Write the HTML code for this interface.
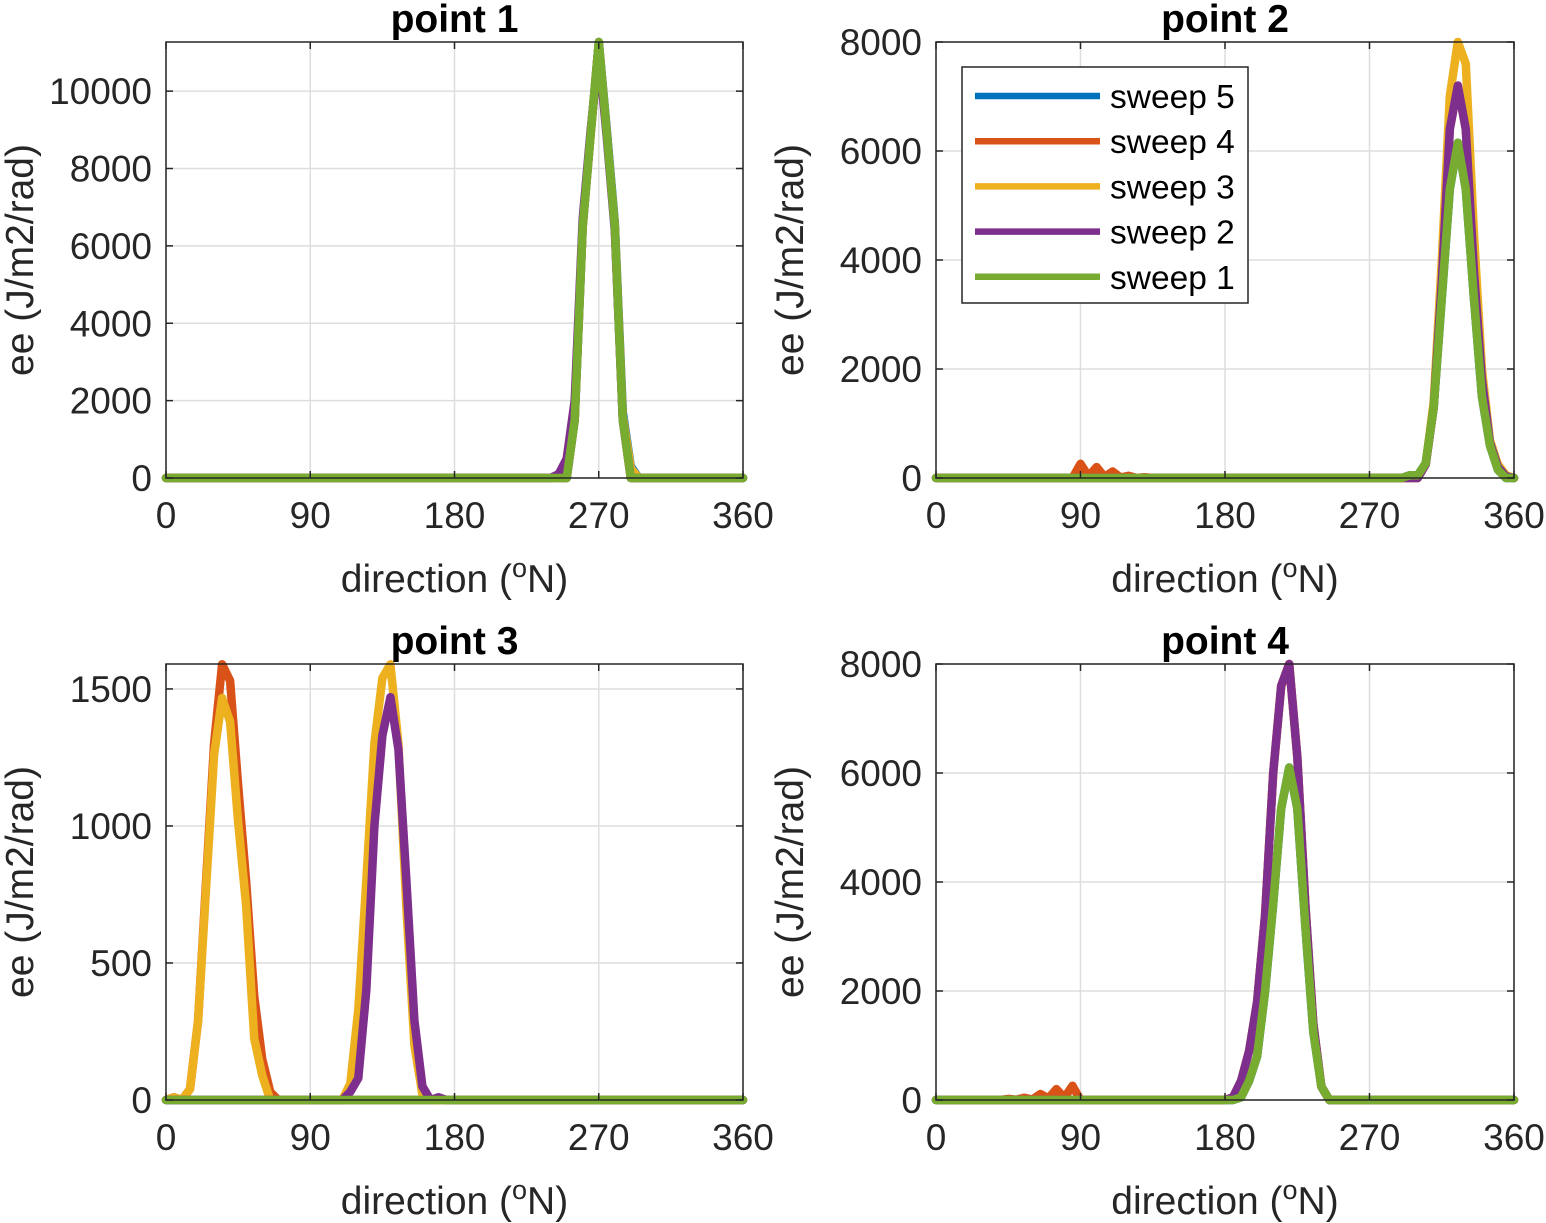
<!DOCTYPE html>
<html><head><meta charset="utf-8"><style>
html,body{margin:0;padding:0;background:#fff;}
svg{display:block;font-family:"Liberation Sans",Arial,sans-serif;}
</style></head><body>
<svg id="fig" width="1546" height="1223" viewBox="0 0 1546 1223" xmlns="http://www.w3.org/2000/svg"></svg>
<script>
// directions: 0..360 step 5
const directions = [0,5,10,15,20,25,30,35,40,45,50,55,60,65,70,75,80,85,90,95,100,105,110,115,120,125,130,135,140,145,150,155,160,165,170,175,180,185,190,195,200,205,210,215,220,225,230,235,240,245,250,255,260,265,270,275,280,285,290,295,300,305,310,315,320,325,330,335,340,345,350,355,360];
const seriesNames = ["sweep 5","sweep 4","sweep 3","sweep 2","sweep 1"];
const xTicks = [0,90,180,270,360];

// point 1
const p1_s5 = [0,0,0,0,0,0,0,0,0,0, 0,0,0,0,0,0,0,0,0,0, 0,0,0,0,0,0,0,0,0,0, 0,0,0,0,0,0,0,0,0,0, 0,0,0,0,0,0,0,0,0,0, 0,1500,6500,8900,11270,9000,6600,1700,300,0, 0,0,0,0,0,0,0,0,0,0, 0,0,0];
const p1_s4 = [0,0,0,0,0,0,0,0,0,0, 0,0,0,0,0,0,0,0,0,0, 0,0,0,0,0,0,0,0,0,0, 0,0,0,0,0,0,0,0,0,0, 0,0,0,0,0,0,0,0,0,0, 0,1500,6500,8900,11270,8900,6500,1500,0,0, 0,0,0,0,0,0,0,0,0,0, 0,0,0];
const p1_s3 = [0,0,0,0,0,0,0,0,0,0, 0,0,0,0,0,0,0,0,0,0, 0,0,0,0,0,0,0,0,0,0, 0,0,0,0,0,0,0,0,0,0, 0,0,0,0,0,0,0,0,0,0, 500,1800,6600,8900,11200,8900,6500,1600,250,0, 0,0,0,0,0,0,0,0,0,0, 0,0,0];
const p1_s2 = [0,0,0,0,0,0,0,0,0,0, 0,0,0,0,0,0,0,0,0,0, 0,0,0,0,0,0,0,0,0,0, 0,0,0,0,0,0,0,0,0,0, 0,0,0,0,0,0,0,0,0,100, 500,2000,6700,9000,11000,8800,6400,1500,0,0, 0,0,0,0,0,0,0,0,0,0, 0,0,0];
const p1_s1 = [0,0,0,0,0,0,0,0,0,0, 0,0,0,0,0,0,0,0,0,0, 0,0,0,0,0,0,0,0,0,0, 0,0,0,0,0,0,0,0,0,0, 0,0,0,0,0,0,0,0,0,0, 0,1500,6500,8900,11270,8900,6500,1500,0,0, 0,0,0,0,0,0,0,0,0,0, 0,0,0];
const p1_yTicks = [0,2000,4000,6000,8000,10000];

// point 2
const p2_s5 = [0,0,0,0,0,0,0,0,0,0, 0,0,0,0,0,0,0,0,0,0, 0,0,0,0,0,0,0,0,0,0, 0,0,0,0,0,0,0,0,0,0, 0,0,0,0,0,0,0,0,0,0, 0,0,0,0,0,0,0,0,0,50, 50,270,1300,3300,5300,6150,5300,3300,1500,600, 150,0,0];
const p2_s4 = [0,0,0,0,0,0,0,0,0,0, 0,0,0,0,0,0,0,0,260,30, 200,20,120,10,40,0,15,0,0,0, 0,0,0,0,0,0,0,0,0,0, 0,0,0,0,0,0,0,0,0,0, 0,0,0,0,0,0,0,0,0,0, 0,250,1300,3600,6400,7200,6400,3800,1800,650, 200,30,0];
const p2_s3 = [0,0,0,0,0,0,0,0,0,0, 0,0,0,0,0,0,0,0,0,0, 0,0,0,0,0,0,0,0,0,0, 0,0,0,0,0,0,0,0,0,0, 0,0,0,0,0,0,0,0,0,0, 0,0,0,0,0,0,0,0,0,0, 0,250,1400,4000,7000,8000,7600,4500,2000,700, 250,50,0];
const p2_s2 = [0,0,0,0,0,0,0,0,0,0, 0,0,0,0,0,0,0,0,0,0, 0,0,0,0,0,0,0,0,0,0, 0,0,0,0,0,0,0,0,0,0, 0,0,0,0,0,0,0,0,0,0, 0,0,0,0,0,0,0,0,0,0, 0,250,1300,3600,6400,7200,6400,3800,1800,650, 200,30,0];
const p2_s1 = [0,0,0,0,0,0,0,0,0,0, 0,0,0,0,0,0,0,0,0,0, 0,0,0,0,0,0,0,0,0,0, 0,0,0,0,0,0,0,0,0,0, 0,0,0,0,0,0,0,0,0,0, 0,0,0,0,0,0,0,0,0,50, 50,270,1300,3300,5300,6150,5300,3300,1500,600, 150,0,0];
const p2_yTicks = [0,2000,4000,6000,8000];

// point 3
const p3_s5 = [0,0,0,0,0,0,0,0,0,0, 0,0,0,0,0,0,0,0,0,0, 0,0,0,0,0,0,0,0,0,0, 0,0,0,0,0,0,0,0,0,0, 0,0,0,0,0,0,0,0,0,0, 0,0,0,0,0,0,0,0,0,0, 0,0,0,0,0,0,0,0,0,0, 0,0,0];
const p3_s4 = [0,10,0,40,290,800,1300,1590,1530,1150, 800,380,150,30,0,0,0,0,0,0, 0,0,0,0,0,0,0,0,0,0, 0,0,0,0,0,0,0,0,0,0, 0,0,0,0,0,0,0,0,0,0, 0,0,0,0,0,0,0,0,0,0, 0,0,0,0,0,0,0,0,0,0, 0,0,0];
const p3_s3 = [0,10,0,40,290,775,1260,1467,1380,1015, 710,225,90,0,0,0,0,0,0,0, 0,0,0,60,330,800,1300,1540,1590,1300, 700,200,20,0,0,0,0,0,0,0, 0,0,0,0,0,0,0,0,0,0, 0,0,0,0,0,0,0,0,0,0, 0,0,0,0,0,0,0,0,0,0, 0,0,0];
const p3_s2 = [0,0,0,0,0,0,0,0,0,0, 0,0,0,0,0,0,0,0,0,0, 0,0,0,30,80,400,1000,1330,1470,1280, 800,290,50,0,10,0,0,0,0,0, 0,0,0,0,0,0,0,0,0,0, 0,0,0,0,0,0,0,0,0,0, 0,0,0,0,0,0,0,0,0,0, 0,0,0];
const p3_s1 = [0,0,0,0,0,0,0,0,0,0, 0,0,0,0,0,0,0,0,0,0, 0,0,0,0,0,0,0,0,0,0, 0,0,0,0,0,0,0,0,0,0, 0,0,0,0,0,0,0,0,0,0, 0,0,0,0,0,0,0,0,0,0, 0,0,0,0,0,0,0,0,0,0, 0,0,0];
const p3_yTicks = [0,500,1000,1500];

// point 4
const p4_s5 = [0,0,0,0,0,0,0,0,0,0, 0,0,0,0,0,0,0,0,0,0, 0,0,0,0,0,0,0,0,0,0, 0,0,0,0,0,0,0,0,50,350, 800,2000,3600,5350,6100,5350,3200,1250,250,0, 0,0,0,0,0,0,0,0,0,0, 0,0,0,0,0,0,0,0,0,0, 0,0,0];
const p4_s4 = [0,0,0,0,0,0,0,0,0,20, 5,40,10,110,30,200,40,260,0,0, 0,0,0,0,0,0,0,0,0,0, 0,0,0,0,0,0,0,50,350,900, 1800,3400,6000,7600,8000,6300,3600,1400,250,0, 0,0,0,0,0,0,0,0,0,0, 0,0,0,0,0,0,0,0,0,0, 0,0,0];
const p4_s3 = [0,0,0,0,0,0,0,0,0,0, 0,0,0,0,0,0,0,0,0,0, 0,0,0,0,0,0,0,0,0,0, 0,0,0,0,0,0,0,50,350,900, 1800,3400,6000,7600,8000,6300,3600,1400,250,0, 0,0,0,0,0,0,0,0,0,0, 0,0,0,0,0,0,0,0,0,0, 0,0,0];
const p4_s2 = [0,0,0,0,0,0,0,0,0,0, 0,0,0,0,0,0,0,0,0,0, 0,0,0,0,0,0,0,0,0,0, 0,0,0,0,0,0,0,50,350,900, 1800,3400,6000,7600,8000,6300,3600,1400,250,0, 0,0,0,0,0,0,0,0,0,0, 0,0,0,0,0,0,0,0,0,0, 0,0,0];
const p4_s1 = [0,0,0,0,0,0,0,0,0,0, 0,0,0,0,0,0,0,0,0,0, 0,0,0,0,0,0,0,0,0,0, 0,0,0,0,0,0,0,0,50,350, 800,2000,3600,5350,6100,5350,3200,1250,250,0, 0,0,0,0,0,0,0,0,0,0, 0,0,0,0,0,0,0,0,0,0, 0,0,0];
const p4_yTicks = [0,2000,4000,6000,8000];

const colors = ["#0072BD","#D95319","#EDB120","#7E2F8E","#77AC30"];
const NS = "http://www.w3.org/2000/svg";
const svg = document.getElementById("fig");

function mk(tag, attrs, parent) {
  const e = document.createElementNS(NS, tag);
  for (const k in attrs) e.setAttribute(k, attrs[k]);
  (parent || svg).appendChild(e);
  return e;
}

const panels = [
  {id:1, L:166, R:743, T:42, B:478, ymax:11270, yt:p1_yTicks, s:[p1_s5,p1_s4,p1_s3,p1_s2,p1_s1], legend:false},
  {id:2, L:936, R:1514, T:42, B:478, ymax:8000, yt:p2_yTicks, s:[p2_s5,p2_s4,p2_s3,p2_s2,p2_s1], legend:true},
  {id:3, L:166, R:743, T:664, B:1100, ymax:1591, yt:p3_yTicks, s:[p3_s5,p3_s4,p3_s3,p3_s2,p3_s1], legend:false},
  {id:4, L:936, R:1514, T:664, B:1100, ymax:8000, yt:p4_yTicks, s:[p4_s5,p4_s4,p4_s3,p4_s2,p4_s1], legend:false}
];

panels.forEach(p => {
  const g = mk("g", {});
  
  
  const xs = v => p.L + (v / 360) * (p.R - p.L);
  const ys = v => p.B - (v / p.ymax) * (p.B - p.T);
  mk("rect", {x:p.L, y:p.T, width:p.R-p.L, height:p.B-p.T, fill:"#fff"}, g);
  xTicks.forEach(t => {
    const gl = mk("line", {x1:xs(t), x2:xs(t), y1:p.T, y2:p.B, stroke:"#dedede", "stroke-width":1.5}, g);
    
    
  });
  p.yt.forEach(t => {
    const gl = mk("line", {x1:p.L, x2:p.R, y1:ys(t), y2:ys(t), stroke:"#dedede", "stroke-width":1.5}, g);
    
    
  });
  p.s.forEach((arr, si) => {
    const d = arr.map((v, i) => (i ? "L" : "M") + xs(directions[i]).toFixed(1) + "," + ys(v).toFixed(1)).join(" ");
    const path = mk("path", {d:d, fill:"none", stroke:colors[si], "stroke-width":8.5, "stroke-linejoin":"round", "stroke-linecap":"round"}, g);
    
    
  });
  const box = mk("rect", {x:p.L, y:p.T, width:p.R-p.L, height:p.B-p.T, fill:"none", stroke:"#262626", "stroke-width":1.5}, g);
  
  
  xTicks.forEach(t => {
    mk("line", {x1:xs(t), x2:xs(t), y1:p.B, y2:p.B-7, stroke:"#262626", "stroke-width":1.5}, g);
    mk("line", {x1:xs(t), x2:xs(t), y1:p.T, y2:p.T+7, stroke:"#262626", "stroke-width":1.5}, g);
    const tx = mk("text", {x:xs(t), y:p.B+50, "text-anchor":"middle", "font-size":37, fill:"#262626"}, g);
    tx.textContent = t;
    
    
  });
  p.yt.forEach(t => {
    mk("line", {x1:p.L, x2:p.L+7, y1:ys(t), y2:ys(t), stroke:"#262626", "stroke-width":1.5}, g);
    mk("line", {x1:p.R, x2:p.R-7, y1:ys(t), y2:ys(t), stroke:"#262626", "stroke-width":1.5}, g);
    const tx = mk("text", {x:p.L-14, y:ys(t)+13, "text-anchor":"end", "font-size":37, fill:"#262626"}, g);
    tx.textContent = t;
    
    
  });
  const cx = (p.L + p.R) / 2;
  const title = mk("text", {x:cx, y:p.T-10, "text-anchor":"middle", "font-size":39, "font-weight":"bold", fill:"#000"}, g);
  title.textContent = "point " + p.id;
  
  
  const xl = mk("text", {x:cx, y:p.B+114, "text-anchor":"middle", "font-size":39, fill:"#262626"}, g);
  xl.innerHTML = 'direction (<tspan dy="-15" font-size="27">o</tspan><tspan dy="15">N)</tspan>';
  
  
  const yc = (p.T + p.B) / 2;
  const yl = mk("text", {x:p.L-133, y:yc, "text-anchor":"middle", "font-size":39, fill:"#262626", transform:"rotate(-90 " + (p.L-133) + " " + yc + ")"}, g);
  yl.textContent = "ee (J/m2/rad)";
  
  

  if (p.legend) {
    const lg = mk("g", {}, g);
    
    
    mk("rect", {x:962, y:67, width:286, height:236, fill:"#fff", stroke:"#262626", "stroke-width":1.5}, lg);
    seriesNames.forEach((nm, si) => {
      const y = 96 + si * 45.2;
      const ent = mk("g", {}, lg);
      
      
      mk("line", {x1:975, x2:1100, y1:y, y2:y, stroke:colors[si], "stroke-width":6.5}, ent);
      const t = mk("text", {x:1110, y:y+12, "font-size":33.5, fill:"#000"}, ent);
      t.textContent = nm;
    });
  }
});
</script>
</body></html>
